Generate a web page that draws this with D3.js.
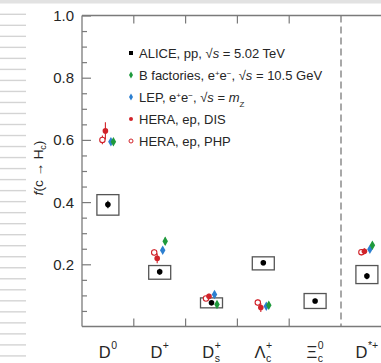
<!DOCTYPE html>
<html>
<head>
<meta charset="utf-8">
<script src="https://cdn.jsdelivr.net/npm/d3@7"></script>
<style>
  html, body { margin: 0; padding: 0; background: #fff; }
  svg { display: block; font-family: "Liberation Sans", Arial, Helvetica, sans-serif; }
</style>
</head>
<body>
<svg id="chart" width="381" height="363"></svg>
<script>
// Charm hadron species on the x axis
const categories = ["D0", "D+", "Ds+", "Lc+", "Xic0", "D*+"];

// ALICE pp, sqrt(s) = 5.02 TeV: central value, stat error, systematic box bounds
const aliceValue = [0.392, 0.176, 0.076, 0.205, 0.082, 0.162];
const aliceStat  = [0.012, 0.010, 0.005, 0.008, 0.007, 0.010];
const aliceSysLo = [0.358, 0.152, 0.060, 0.182, 0.058, 0.138];
const aliceSysHi = [0.424, 0.196, 0.092, 0.224, 0.106, 0.196];

// Other collision systems (null where not measured)
const bFactValue = [0.594, 0.274, 0.071, 0.068, null, 0.261];
const bFactErr   = [0.006, 0.012, 0.005, 0.004, null, 0.010];
const lepValue   = [0.594, 0.245, 0.103, 0.065, null, 0.248];
const lepErr     = [0.007, 0.008, 0.007, 0.005, null, 0.007];
const disValue   = [0.629, 0.219, 0.097, 0.061, null, 0.242];
const disErr     = [0.028, 0.016, 0.008, 0.014, null, 0.010];
const phpValue   = [0.600, 0.238, 0.090, 0.077, null, 0.239];
const phpErr     = [0.014, 0.010, 0.006, 0.010, null, 0.010];

const yTicks = [0.2, 0.4, 0.6, 0.8, 1.0];

const svg = d3.select("#chart");
const plotLeft = 82, plotTop = 15.5, plotBottom = 326.5;

const x = d3.scaleBand().domain(categories).range([plotLeft, plotLeft + 6 * 51.8]).padding(0);
const y = d3.scaleLinear().domain([0, 1]).range([plotBottom, plotTop]);
const xMid = c => x(c) + x.bandwidth() / 2;

const axisColor = "#7a7a7a";
const textColor = "#262626";

// page chrome around the figure
svg.append("rect").attr("x", 0).attr("y", 0).attr("width", 381).attr("height", 3.5).attr("fill", "#e2e2e2");
svg.append("g").selectAll("line").data(d3.range(14.3, 357, 11.02)).join("line")
  .attr("x1", 0).attr("x2", 26).attr("y1", d => d).attr("y2", d => d)
  .attr("stroke", "#d4d4d4").attr("stroke-width", 1.4);

// frame
const frame = svg.append("g").attr("stroke", axisColor).attr("stroke-width", 1.3).attr("fill", "none");
frame.append("line").attr("x1", plotLeft).attr("x2", 381).attr("y1", plotTop).attr("y2", plotTop);
frame.append("line").attr("x1", plotLeft).attr("x2", 381).attr("y1", plotBottom).attr("y2", plotBottom);
frame.append("line").attr("x1", plotLeft).attr("x2", plotLeft).attr("y1", plotTop).attr("y2", plotBottom);

// y axis: inward ticks, major every 0.2, minor every 0.05
const minorTicks = d3.range(1, 20).map(i => i * 0.05).filter((v, i) => (i + 1) % 4 !== 0);
const yMinor = svg.append("g").attr("transform", `translate(${plotLeft},0)`)
  .call(d3.axisRight(y).tickValues(minorTicks).tickSize(5).tickFormat(""));
yMinor.select(".domain").remove();
yMinor.selectAll("line").attr("stroke", axisColor).attr("stroke-width", 1.2);
const yMajor = svg.append("g").attr("transform", `translate(${plotLeft},0)`)
  .call(d3.axisRight(y).tickValues(yTicks).tickSize(9).tickFormat(""));
yMajor.select(".domain").remove();
yMajor.selectAll("line").attr("stroke", axisColor).attr("stroke-width", 1.2);

svg.append("g").selectAll("text").data(yTicks).join("text")
  .attr("x", 74).attr("y", d => y(d)).attr("dy", "0.36em")
  .attr("text-anchor", "end").attr("font-size", 15).attr("fill", textColor)
  .text(d => d.toFixed(1));

// category boundary ticks on bottom and top
const bounds = categories.slice(1, 5).map(c => x(c));
svg.append("g").selectAll("line").data(bounds).join("line")
  .attr("x1", d => d).attr("x2", d => d).attr("y1", plotBottom).attr("y2", plotBottom - 8)
  .attr("stroke", axisColor).attr("stroke-width", 1.2);
svg.append("g").selectAll("line").data(bounds).join("line")
  .attr("x1", d => d).attr("x2", d => d).attr("y1", plotTop).attr("y2", plotTop + 8)
  .attr("stroke", axisColor).attr("stroke-width", 1.2);

// dashed separator before D*+
svg.append("line").attr("x1", x("D*+")).attr("x2", x("D*+"))
  .attr("y1", plotTop).attr("y2", plotBottom)
  .attr("stroke", axisColor).attr("stroke-width", 1.3).attr("stroke-dasharray", "7,4");

// category labels with super/subscripts
const catLabels = [
  { base: "D", sup: "0", sub: null },
  { base: "D", sup: "+", sub: null },
  { base: "D", sup: "+", sub: "s" },
  { base: "Λ", sup: "+", sub: "c" },
  { base: "Ξ", sup: "0", sub: "c" },
  { base: "D", sup: "*+", sub: null }
];
catLabels.forEach((lab, i) => {
  const g = svg.append("g");
  const t = g.append("text").attr("y", 357.5).attr("font-size", 16.5).attr("fill", textColor).text(lab.base);
  const w = t.node().getComputedTextLength();
  const s1 = g.append("text").attr("x", w + 0.5).attr("y", 349).attr("font-size", 10.5).attr("fill", textColor).text(lab.sup);
  let extra = s1.node().getComputedTextLength();
  if (lab.sub) {
    const s2 = g.append("text").attr("x", w + 0.5).attr("y", 361.5).attr("font-size", 10.5).attr("fill", textColor).text(lab.sub);
    extra = Math.max(extra, s2.node().getComputedTextLength());
  }
  const total = w + 0.5 + extra;
  g.attr("transform", `translate(${xMid(categories[i]) - total / 2},0)`);
});

// y axis title
const yt = svg.append("text").attr("transform", "translate(42.5,168) rotate(-90)")
  .attr("text-anchor", "middle").attr("font-size", 13.5).attr("fill", textColor);
yt.append("tspan").attr("font-style", "italic").text("f");
yt.append("tspan").text("(c → H");
yt.append("tspan").attr("font-size", 9).attr("dy", 3).text("c");
yt.append("tspan").attr("dy", -3).text(")");

// systematic boxes for ALICE
svg.append("g").selectAll("rect").data(categories).join("rect")
  .attr("x", c => xMid(c) - 11).attr("width", 22)
  .attr("y", (c, i) => y(aliceSysHi[i]))
  .attr("height", (c, i) => y(aliceSysLo[i]) - y(aliceSysHi[i]))
  .attr("fill", "none").attr("stroke", "#555").attr("stroke-width", 1.3);

// series drawing helper
const red = "#d1232a", green = "#1f9a3c", blue = "#2c7fd0";
function series(values, errs, dx, color, shape) {
  const pts = categories.map((c, i) => ({ c, v: values[i], e: errs[i] })).filter(d => d.v != null);
  const g = svg.append("g");
  g.selectAll("line").data(pts).join("line")
    .attr("x1", d => xMid(d.c) + dx).attr("x2", d => xMid(d.c) + dx)
    .attr("y1", d => y(d.v - d.e)).attr("y2", d => y(d.v + d.e))
    .attr("stroke", color).attr("stroke-width", 1.1);
  if (shape === "diamond") {
    g.selectAll("path").data(pts).join("path")
      .attr("d", d3.symbol(d3.symbolDiamond, 26))
      .attr("transform", d => `translate(${xMid(d.c) + dx},${y(d.v)})`)
      .attr("fill", color);
  } else if (shape === "open") {
    g.selectAll("circle").data(pts).join("circle")
      .attr("cx", d => xMid(d.c) + dx).attr("cy", d => y(d.v)).attr("r", 2.7)
      .attr("fill", "#fff").attr("stroke", color).attr("stroke-width", 1.1);
  } else {
    g.selectAll("circle").data(pts).join("circle")
      .attr("cx", d => xMid(d.c) + dx).attr("cy", d => y(d.v)).attr("r", 2.8)
      .attr("fill", color);
  }
}
series(phpValue, phpErr, -5.5, red, "open");
series(disValue, disErr, -2.5, red, "filled");
series(lepValue, lepErr, 3, blue, "diamond");
series(bFactValue, bFactErr, 5.5, green, "diamond");
series(aliceValue, aliceStat, 0, "#000", "filled");

// legend
const legendItems = [
  { color: "#000", shape: "square", parts: [["ALICE, pp, √"], ["s", "i"], [" = 5.02 TeV"]] },
  { color: green, shape: "diamond", parts: [["B factories, e"], ["+", "sup"], ["e"], ["−", "sup"], [", √"], ["s", "i"], [" = 10.5 GeV"]] },
  { color: blue, shape: "diamond", parts: [["LEP, e"], ["+", "sup"], ["e"], ["−", "sup"], [", √"], ["s", "i"], [" = "], ["m", "i"], ["Z", "sub"]] },
  { color: red, shape: "filled", parts: [["HERA, ep, DIS"]] },
  { color: red, shape: "open", parts: [["HERA, ep, PHP"]] }
];
legendItems.forEach((item, k) => {
  const ly = 53 + k * 22;
  if (item.shape === "square") {
    svg.append("rect").attr("x", 129).attr("y", ly - 2).attr("width", 4).attr("height", 4).attr("fill", item.color);
  } else if (item.shape === "diamond") {
    svg.append("path").attr("d", d3.symbol(d3.symbolDiamond, 14)).attr("transform", `translate(131,${ly})`).attr("fill", item.color);
  } else if (item.shape === "open") {
    svg.append("circle").attr("cx", 131).attr("cy", ly).attr("r", 2).attr("fill", "#fff").attr("stroke", item.color).attr("stroke-width", 1);
  } else {
    svg.append("circle").attr("cx", 131).attr("cy", ly).attr("r", 2).attr("fill", item.color);
  }
  const t = svg.append("text").attr("x", 139).attr("y", ly + 4.6).attr("font-size", 13).attr("fill", textColor);
  item.parts.forEach(([s, kind]) => {
    const ts = t.append("tspan").text(s);
    if (kind === "i") ts.attr("font-style", "italic");
    if (kind === "sup") ts.attr("font-size", 8).attr("baseline-shift", "super");
    if (kind === "sub") ts.attr("font-size", 8).attr("baseline-shift", "sub");
  });
});
</script>
</body>
</html>
